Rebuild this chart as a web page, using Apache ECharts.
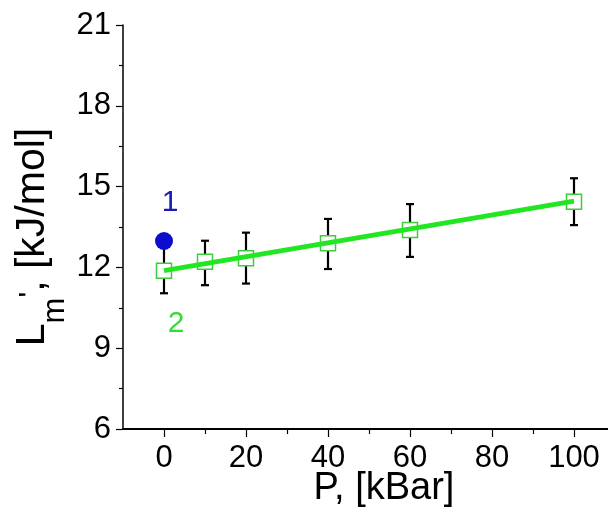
<!DOCTYPE html>
<html>
<head>
<meta charset="utf-8">
<script src="https://cdn.jsdelivr.net/npm/echarts@6/dist/echarts.min.js"></script>
<style>html,body{margin:0;padding:0;background:#fff}#c{width:608px;height:510px}</style>
</head>
<body>
<div id="c"></div>
<script>
// Data
const pressure = [0, 10, 20, 40, 60, 100];           // P, kBar
const lm2 = [11.88, 12.21, 12.34, 12.90, 13.39, 14.44]; // series 2 (squares)
const lm2Low = [11.04, 11.34, 11.40, 11.94, 12.39, 13.57];
const lm2High = [12.72, 12.99, 13.29, 13.80, 14.35, 15.31];
const fitP = [0, 100];
const fitL = [11.88, 14.46];
const p1 = [0];
const lm1 = [12.98];                                  // series 1 (circle)
const xMajorTicks = [0, 20, 40, 60, 80, 100];
const xMinorTicks = [10, 30, 50, 70, 90];

const FONT = 'Liberation Sans, Arial, sans-serif';
const GREEN_LINE = '#22e622';
const GREEN_SQ = '#3ccc3c';
const BLUE = '#0c0ccf';

const chart = echarts.init(document.getElementById('c'), null, {renderer: 'canvas'});

const option = {
  animation: false,
  backgroundColor: '#fff',
  grid: {left: 123, top: 25, bottom: 81, right: -7, outerBoundsMode: 'none', containLabel: false},
  xAxis: [{
    type: 'value', min: -10, max: 110,
    axisLine: {onZero: false, lineStyle: {color: '#000', width: 2}},
    axisTick: {show: true, inside: false, length: 8, lineStyle: {color: '#000', width: 1.2}, customValues: xMajorTicks},
    axisLabel: {color: '#000', fontSize: 31, fontFamily: FONT, margin: 14, customValues: xMajorTicks},
    splitLine: {show: false},
    name: 'P, [kBar]', nameLocation: 'middle', nameGap: 41, nameMoveOverlap: false,
    nameTextStyle: {color: '#000', fontSize: 38, fontFamily: FONT, padding: [0, 0, 0, 30]}
  }, {
    type: 'value', min: -10, max: 110, position: 'bottom', gridIndex: 0,
    axisLine: {show: false, onZero: false},
    axisTick: {show: true, length: 5, lineStyle: {color: '#000', width: 1.2}, customValues: xMinorTicks},
    axisLabel: {show: false},
    splitLine: {show: false}
  }],
  yAxis: {
    type: 'value', min: 6, max: 21, interval: 3,
    axisLine: {show: true, onZero: false, lineStyle: {color: '#000', width: 1.5}},
    axisTick: {show: true, length: 7, lineStyle: {color: '#000', width: 1.2}},
    minorTick: {show: true, splitNumber: 2, length: 4, lineStyle: {color: '#000', width: 1.2}},
    axisLabel: {color: '#000', fontSize: 31, fontFamily: FONT, margin: 12},
    splitLine: {show: false},
    name: '{a|L}{s|m}{p|\'}{a|, [kJ/mol]}', nameLocation: 'middle', nameGap: 68, nameRotate: 90, nameMoveOverlap: false,
    nameTextStyle: {
      color: '#000', fontFamily: FONT, padding: [0, 20, 0, 0],
      rich: {
        a: {fontSize: 41, fontFamily: FONT, color: '#000', lineHeight: 44},
        s: {fontSize: 31, fontFamily: FONT, color: '#000', lineHeight: 44, padding: [44, 0, 0, 0]},
        p: {fontSize: 30, fontFamily: FONT, color: '#000', lineHeight: 44, padding: [0, 0, 4, 0]}
      }
    }
  },
  series: [
    {
      type: 'custom', name: 'err', z: 1, xAxisIndex: 0,
      renderItem: function (params, api) {
        const x = api.value(0);
        const lo = api.coord([x, api.value(1)]);
        const hi = api.coord([x, api.value(2)]);
        const w = 4;
        const style = {stroke: '#000', lineWidth: 2.2};
        return {type: 'group', children: [
          {type: 'line', shape: {x1: lo[0], y1: lo[1], x2: hi[0], y2: hi[1]}, style: style},
          {type: 'line', shape: {x1: lo[0] - w, y1: lo[1], x2: lo[0] + w, y2: lo[1]}, style: style},
          {type: 'line', shape: {x1: hi[0] - w, y1: hi[1], x2: hi[0] + w, y2: hi[1]}, style: style}
        ]};
      },
      data: pressure.map((p, i) => [p, lm2Low[i], lm2High[i]])
    },
    {
      type: 'scatter', name: '2', z: 2, xAxisIndex: 0,
      symbol: 'rect', symbolSize: 15,
      itemStyle: {color: '#fff', borderColor: GREEN_SQ, borderWidth: 1.5, opacity: 1},
      data: pressure.map((p, i) => [p, lm2[i]]),
      label: {
        show: true, position: 'bottom', distance: 30, offset: [12, 0],
        formatter: function (d) { return d.dataIndex === 0 ? '2' : ''; },
        color: '#33dd33', fontSize: 30, fontFamily: FONT
      }
    },
    {
      type: 'line', name: 'fit', z: 3, xAxisIndex: 0,
      symbol: 'none', lineStyle: {color: GREEN_LINE, width: 5},
      data: fitP.map((p, i) => [p, fitL[i]])
    },
    {
      type: 'scatter', name: '1', z: 4, xAxisIndex: 0,
      symbol: 'circle', symbolSize: 18,
      itemStyle: {color: BLUE, opacity: 1},
      data: p1.map((p, i) => [p, lm1[i]]),
      label: {
        show: true, position: 'top', distance: 14, offset: [6, 0],
        formatter: '1', color: '#1a1ab4', fontSize: 30, fontFamily: FONT
      }
    }
  ]
};
chart.setOption(option);
</script>
</body>
</html>
